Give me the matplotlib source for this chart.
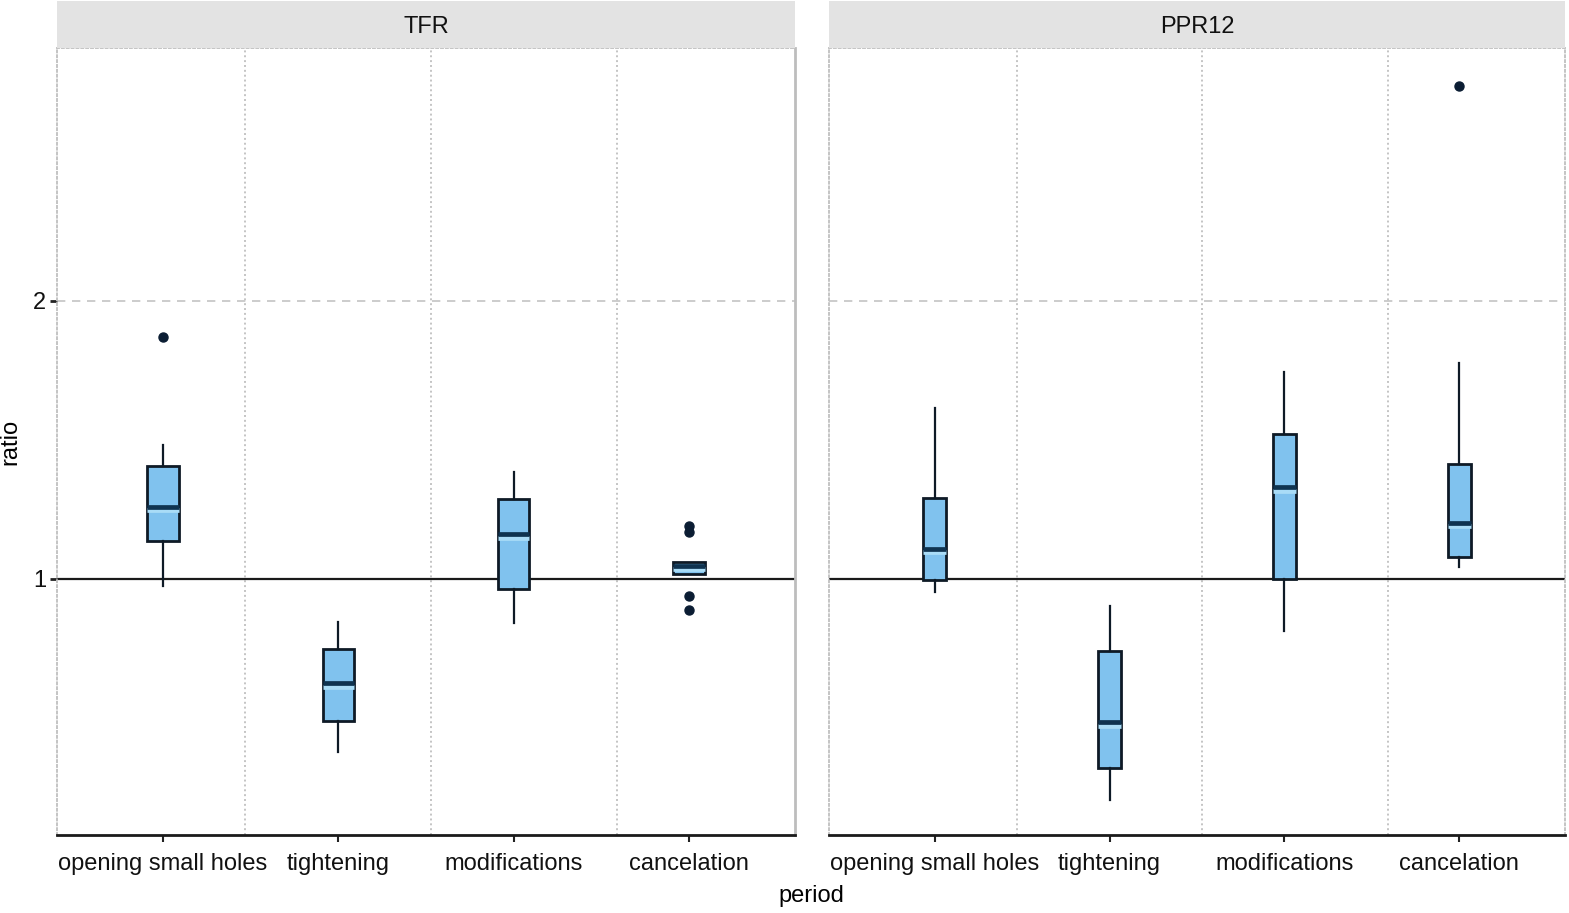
import matplotlib
matplotlib.use("Agg")
import matplotlib.pyplot as plt
import matplotlib.patheffects as pe

plt.rcParams['font.family'] = ['Liberation Sans Narrow', 'Liberation Sans', 'DejaVu Sans']

periods = ["opening small holes", "tightening", "modifications", "cancelation"]
panels = ["TFR", "PPR12"]

# five-number summaries per panel, one entry per period
tfr_whislo = [0.975, 0.379, 0.843, 1.017]
tfr_q1 = [1.136, 0.489, 0.964, 1.017]
tfr_med = [1.260, 0.625, 1.161, 1.047]
tfr_q3 = [1.406, 0.748, 1.288, 1.062]
tfr_whishi = [1.482, 0.846, 1.384, 1.062]
tfr_fliers = [[1.872], [], [], [1.17, 1.19, 0.94, 0.888]]

ppr_whislo = [0.952, 0.205, 0.813, 1.044]
ppr_q1 = [0.998, 0.321, 1.000, 1.080]
ppr_med = [1.108, 0.484, 1.330, 1.203]
ppr_q3 = [1.292, 0.742, 1.523, 1.414]
ppr_whishi = [1.616, 0.904, 1.746, 1.776]
ppr_fliers = [[], [], [], [2.773]]

data = {
    "TFR": (tfr_whislo, tfr_q1, tfr_med, tfr_q3, tfr_whishi, tfr_fliers),
    "PPR12": (ppr_whislo, ppr_q1, ppr_med, ppr_q3, ppr_whishi, ppr_fliers),
}
box_width = {"TFR": 0.18, "PPR12": 0.133}

FILL = "#80c2ee"
EDGE = "#0e1a26"
MED = "#0f3350"
GRID = "#c4c4c4"

fig = plt.figure(figsize=(15.69, 9.13), dpi=100)
W, H = 1569, 913
frames = {"TFR": (57, 795), "PPR12": (829, 1565)}
top, bottom = 48, 835

for name in panels:
    x0, x1 = frames[name]
    ax = fig.add_axes([x0 / W, (H - bottom) / H, (x1 - x0) / W, (bottom - top) / H])
    strip = fig.add_axes([x0 / W, (H - top) / H, (x1 - x0) / W, (top - 1) / H])
    strip.set_facecolor("#e3e3e3")
    strip.set_xticks([])
    strip.set_yticks([])
    for s in strip.spines.values():
        s.set_visible(False)
    strip.text(0.5, 0.45, name, ha="center", va="center", fontsize=17,
               transform=strip.transAxes, color="#111111")

    lo, q1, med, q3, hi, fl = data[name]
    stats = []
    for i, p in enumerate(periods):
        stats.append(dict(label=p, whislo=lo[i], q1=q1[i], med=med[i],
                          q3=q3[i], whishi=hi[i], fliers=fl[i]))

    ax.axhline(2, color=GRID, lw=1.2, ls=(0, (5, 4)), zorder=0)
    for b in [1.47, 2.53, 3.59]:
        ax.axvline(b, color=GRID, lw=1.4, ls=(0, (1, 1.5)), zorder=0)
    ax.axhline(1, color="#1a1a1a", lw=1.6, zorder=1)

    ax.bxp(stats, positions=range(1, 5), widths=box_width[name],
           patch_artist=True, showcaps=False,
           boxprops=dict(facecolor=FILL, edgecolor=EDGE, linewidth=2.0),
           whiskerprops=dict(color=EDGE, linewidth=1.6),
           medianprops=dict(color=MED, linewidth=3.4, solid_capstyle="butt",
                            path_effects=[pe.SimpleLineShadow(offset=(0, -2.4), shadow_color="#a9dcf7",
                                                              alpha=1.0),
                                          pe.Normal()]),
           flierprops=dict(marker="o", markerfacecolor="#0b1d33", markeredgecolor="#0b1d33",
                           markersize=6.5))

    ax.set_xlim(0.395, 4.605)
    ax.set_ylim(0.079, 2.91)
    ax.set_xticks(range(1, 5))
    ax.set_xticklabels(periods, fontsize=17, color="#111111")
    ax.tick_params(axis="x", length=5, width=1.5, color="#222222", pad=8)
    if name == "TFR":
        ax.set_yticks([1, 2])
        ax.set_yticklabels(["1", "2"], fontsize=17, color="#111111")
        ax.tick_params(axis="y", length=5, width=2, color="#222222", pad=3)
        ax.set_ylabel("ratio", fontsize=17, labelpad=8)
        ax.spines["right"].set_color("#bdbdbd")
        ax.spines["right"].set_linewidth(2)
    else:
        ax.set_yticks([])
        ax.spines["right"].set_color(GRID)
        ax.spines["right"].set_linestyle((0, (1, 1.5)))
        ax.spines["right"].set_linewidth(1.4)
    ax.spines["left"].set_color(GRID)
    ax.spines["left"].set_linestyle((0, (1, 1.5)))
    ax.spines["left"].set_linewidth(1.4)
    ax.spines["top"].set_color(GRID)
    ax.spines["top"].set_linestyle((0, (1, 1.5)))
    ax.spines["top"].set_linewidth(1.4)
    ax.spines["bottom"].set_color("#1a1a1a")
    ax.spines["bottom"].set_linewidth(2)

fig.text(811 / W, 1 - 896 / H, "period", ha="center", va="center", fontsize=17)

fig.savefig("out.png", dpi=100)
